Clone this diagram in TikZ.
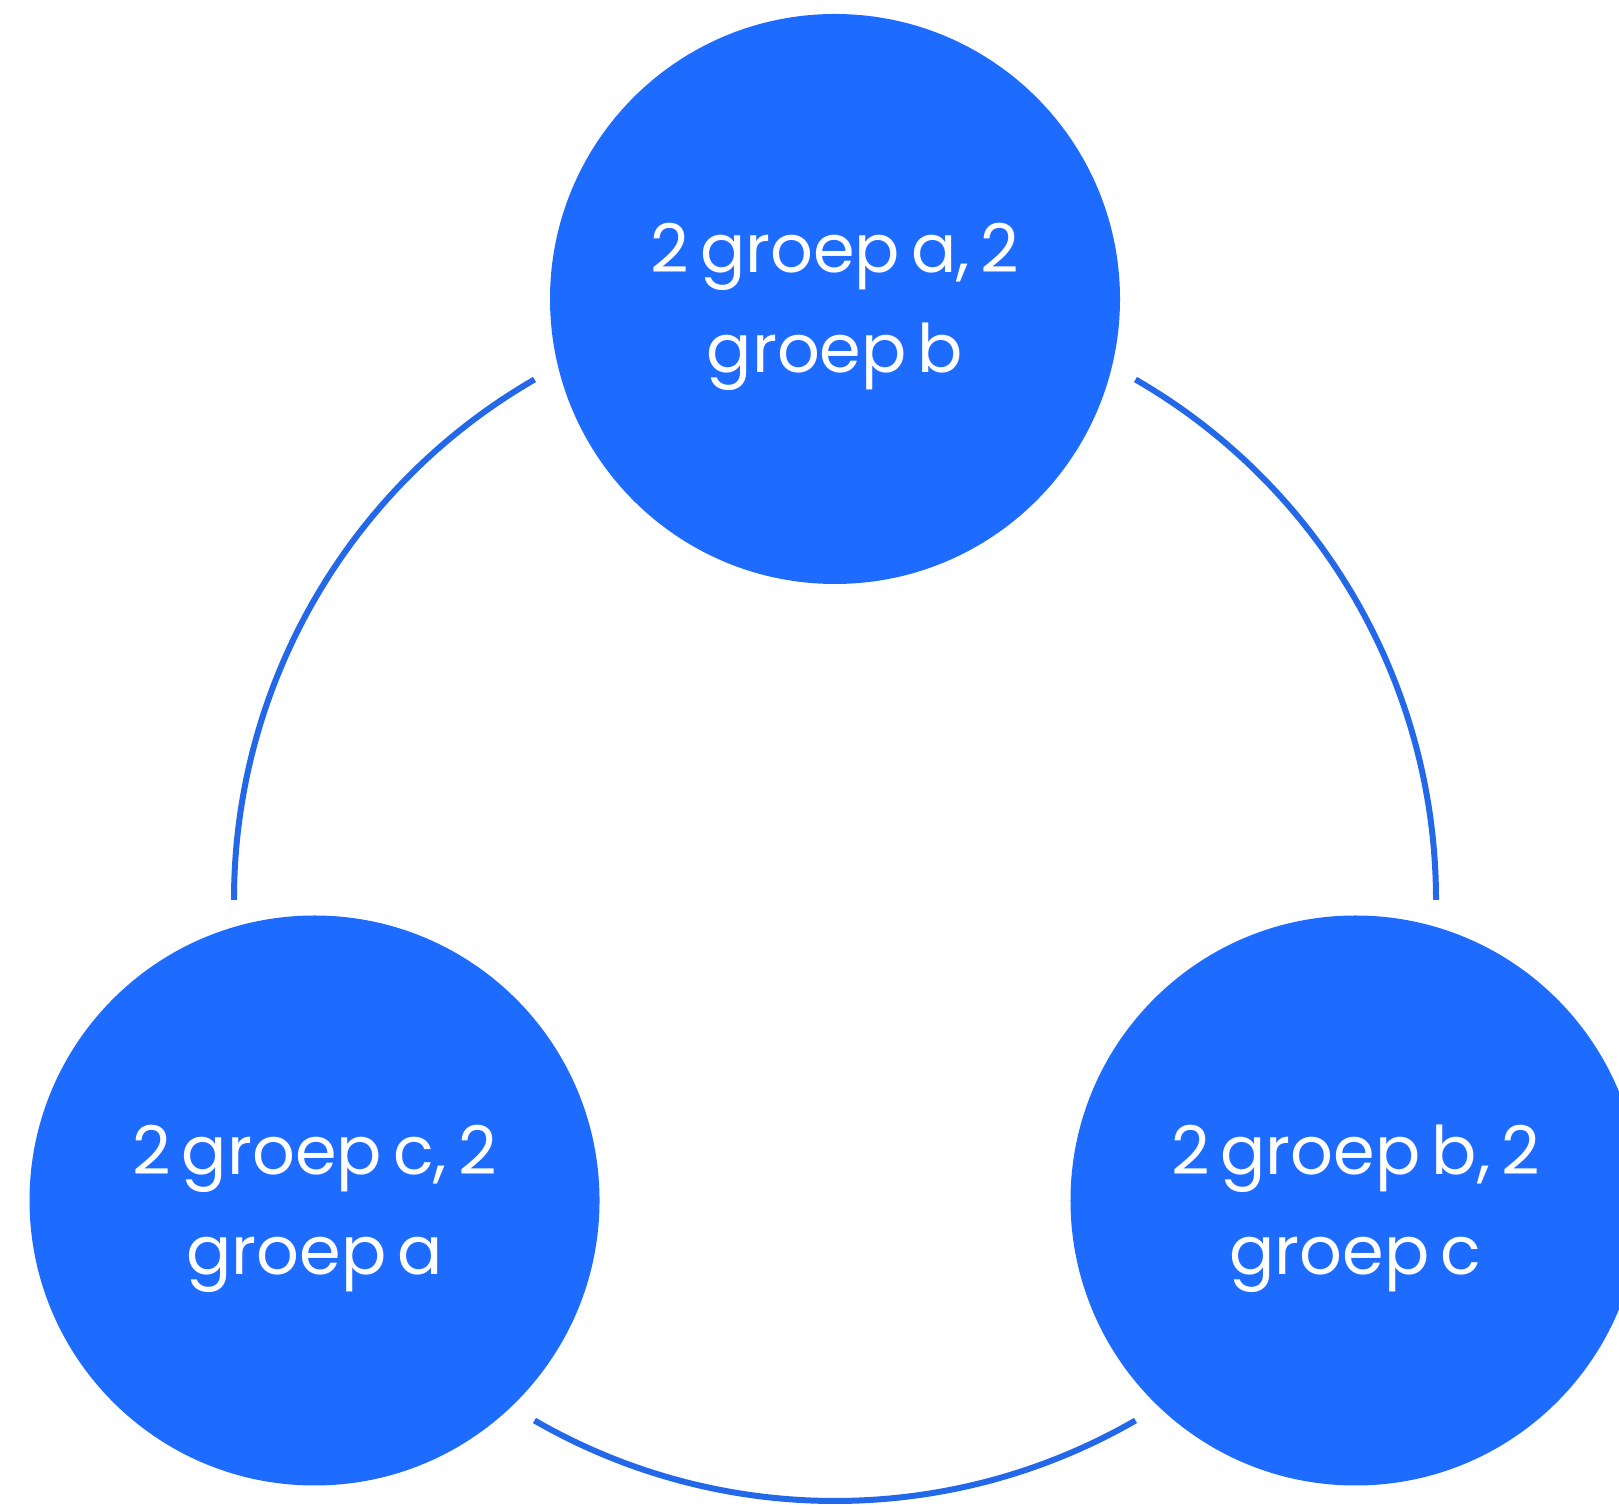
\documentclass[tikz,border=0pt]{standalone}
\usepackage{fontspec}
\setmainfont{Poppins}[WordSpace=0.62]
\usetikzlibrary{calc}
\definecolor{cblue}{HTML}{1E6BFF}
\definecolor{lblue}{HTML}{2468EA}
\begin{document}
\begin{tikzpicture}[x=1pt,y=1pt,
  grp/.style={circle,fill=cblue,minimum size=570pt,inner sep=0pt},
  txt/.style={text=white,align=center,inner sep=0pt,yshift=-8pt,
    font=\fontsize{67}{100}\selectfont},
  ring/.style={draw=lblue,line width=6pt}]
\useasboundingbox (0,0) rectangle (1619,1504);
\clip (0,0) rectangle (1619,1504);
\coordinate (O) at (835,604);
\node[grp,label={[txt,name=at]center:{2 groep a, 2\\groep b}}] (a) at ($(O)+(90:601)$) {};
\node[grp,label={[txt,name=ct]center:{2 groep c, 2\\groep a}}] (c) at ($(O)+(210:601)$) {};
\node[grp,label={[txt,name=bt]center:{2 groep b, 2\\groep c}}] (b) at ($(O)+(330:601)$) {};
\coordinate (r1) at ($(O)+(0:601)$);
\coordinate (r2) at ($(O)+(120:601)$);
\coordinate (r3) at ($(O)+(240:601)$);
\draw[ring] (r1) arc[start angle=0,end angle=60,radius=601];
\draw[ring] (r2) arc[start angle=120,end angle=180,radius=601];
\draw[ring] (r3) arc[start angle=240,end angle=300,radius=601];
\end{tikzpicture}
\end{document}
